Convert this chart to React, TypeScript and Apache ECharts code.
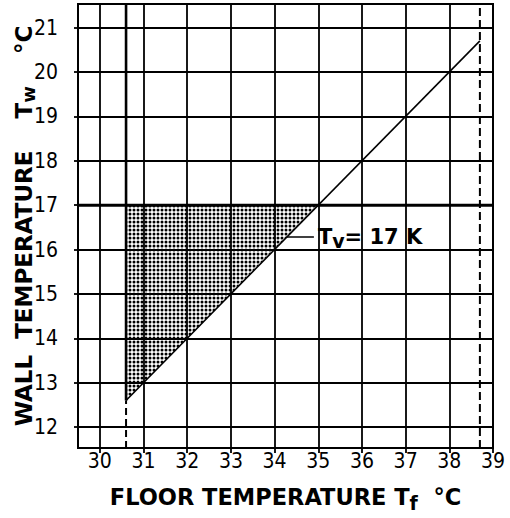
import React, { useEffect, useRef } from 'react';
import * as echarts from 'echarts';

// Axis ranges (°C)
const floorRange = [29.5, 39];
const wallRange = [11.53, 21.53];
// Ventilation limit line Tv = 17 K: Tw = Tf - 18
const diagonalLine = [[30.6, 12.6], [38.7, 20.7]];
// Shaded comfort region (triangle): x1,y1,x2,y2,x3,y3
const shadedRegion = [[30.6, 12.6, 30.6, 17, 35, 17]];
// Limits
const leftLimitSolid = [[30.6, 12.6], [30.6, 21.53]];
const leftLimitDashed = [[30.6, 11.53], [30.6, 12.6]];
const rightLimit = [[38.7, 11.53], [38.7, 21.53]];
const wallLimit = [[29.5, 17], [39, 17]];
const leaderLine = [[34.28, 16.28], [34.9, 16.28]];
const labelAnchor = [[34.9, 16.28]];

const BOLD = '"DejaVu Sans", sans-serif';
const THIN = '"Liberation Sans Narrow", "DejaVu Sans Condensed", "Liberation Sans", sans-serif';

function makeDots(): HTMLCanvasElement {
  const c = document.createElement('canvas');
  c.width = 4;
  c.height = 4;
  const ctx = c.getContext('2d')!;
  ctx.clearRect(0, 0, 4, 4);
  ctx.fillStyle = '#000000';
  ctx.beginPath();
  ctx.arc(2, 2, 1.5, 0, Math.PI * 2);
  ctx.fill();
  return c;
}

export default function App() {
  const ref = useRef<HTMLDivElement>(null);
  useEffect(() => {
    document.body.style.margin = '0';
    const chart = echarts.init(ref.current!, undefined, { renderer: 'svg' });
    const dots = makeDots();
    const intLabel = (v: number) => (Math.abs(v - Math.round(v)) < 1e-6 ? String(Math.round(v)) : '');
    const lineStyleBase = { color: '#000' };
    const option: any = {
      animation: false,
      backgroundColor: '#ffffff',
      grid: {
        left: 78, top: 4, right: 17, bottom: 70,
        containLabel: false, outerBoundsMode: 'none',
        show: true, borderColor: '#000', borderWidth: 2, backgroundColor: 'transparent',
      },
      xAxis: {
        type: 'value', min: floorRange[0], max: floorRange[1],
        splitNumber: 10, minInterval: 1, maxInterval: 1,
        axisLine: { show: false },
        axisTick: { show: true, length: 5, lineStyle: { color: '#000', width: 1.8 } },
        splitLine: { show: true, lineStyle: { color: '#000', width: 1.8 } },
        axisLabel: {
          formatter: intLabel, showMinLabel: false, margin: 2,
          fontFamily: THIN, fontSize: 21, color: '#000',
        },
        name: 'FLOOR TEMPERATURE T{s|f}  °C',
        nameLocation: 'middle', nameGap: 33, nameMoveOverlap: false,
        nameTextStyle: {
          fontFamily: BOLD, fontWeight: 'bold', fontSize: 22.5, color: '#000',
          rich: { s: { fontFamily: BOLD, fontWeight: 'bold', fontSize: 19, color: '#000', verticalAlign: 'bottom', padding: [12, 0, 0, 0] } },
        },
      },
      yAxis: {
        type: 'value', min: wallRange[0], max: wallRange[1],
        splitNumber: 10, minInterval: 1, maxInterval: 1,
        axisLine: { show: false },
        axisTick: { show: true, length: 4, lineStyle: { color: '#000', width: 1.8 } },
        splitLine: { show: true, lineStyle: { color: '#000', width: 1.8 } },
        axisLabel: {
          formatter: intLabel, showMinLabel: false, showMaxLabel: false, margin: 20,
          fontFamily: THIN, fontSize: 21, color: '#000',
        },
        name: 'WALL  TEMPERATURE    T{s|w}    °C',
        nameLocation: 'middle', nameGap: 41, nameMoveOverlap: false,
        nameTextStyle: {
          fontFamily: BOLD, fontWeight: 'bold', fontSize: 23, color: '#000',
          rich: { s: { fontFamily: BOLD, fontWeight: 'bold', fontSize: 18, color: '#000', verticalAlign: 'bottom', padding: [8, 0, 0, 0] } },
        },
      },
      series: [
        {
          type: 'custom', name: 'shaded',
          data: shadedRegion,
          renderItem: (params: any, api: any) => {
            const pts = [0, 1, 2].map((i) => api.coord([api.value(i * 2), api.value(i * 2 + 1)]));
            return {
              type: 'polygon',
              shape: { points: pts },
              style: {
                fill: { image: dots, repeat: 'repeat', imageWidth: 4, imageHeight: 4 },
                stroke: 'none',
              },
              silent: true,
            };
          },
          z: 1,
        },
        {
          type: 'line', data: diagonalLine, symbol: 'none',
          lineStyle: { ...lineStyleBase, width: 1.6 }, z: 3,
        },
        {
          type: 'line', data: leftLimitSolid, symbol: 'none',
          lineStyle: { ...lineStyleBase, width: 2.6 }, z: 3,
        },
        {
          type: 'line', data: leftLimitDashed, symbol: 'none',
          lineStyle: { ...lineStyleBase, width: 2, type: [7, 4] }, z: 3,
        },
        {
          type: 'line', data: rightLimit, symbol: 'none',
          lineStyle: { ...lineStyleBase, width: 2, type: [8, 4] }, z: 3,
        },
        {
          type: 'line', data: wallLimit, symbol: 'none',
          lineStyle: { ...lineStyleBase, width: 3 }, z: 3,
        },
        {
          type: 'line', data: leaderLine, symbol: 'none',
          lineStyle: { ...lineStyleBase, width: 1.5 }, z: 3,
        },
        {
          type: 'scatter', data: labelAnchor, symbolSize: 0, z: 4,
          itemStyle: { opacity: 1, color: '#000' },
          label: {
            show: true, position: 'right', distance: 4, color: '#000', textBorderWidth: 0, opacity: 1,
            formatter: '{t|T}{s|v}{t|= 17 K}',
            rich: {
              t: { fontFamily: BOLD, fontWeight: 'bold', fontSize: 21, color: '#000', lineHeight: 26 },
              s: { fontFamily: BOLD, fontWeight: 'bold', fontSize: 19, color: '#000', lineHeight: 26, verticalAlign: 'bottom', padding: [8, 0, 0, 0] },
            },
          },
        },
      ],
    };
    chart.setOption(option);
    return () => chart.dispose();
  }, []);
  return <div ref={ref} style={{ position: 'fixed', left: 0, top: 0, width: 510, height: 518 }} />;
}
